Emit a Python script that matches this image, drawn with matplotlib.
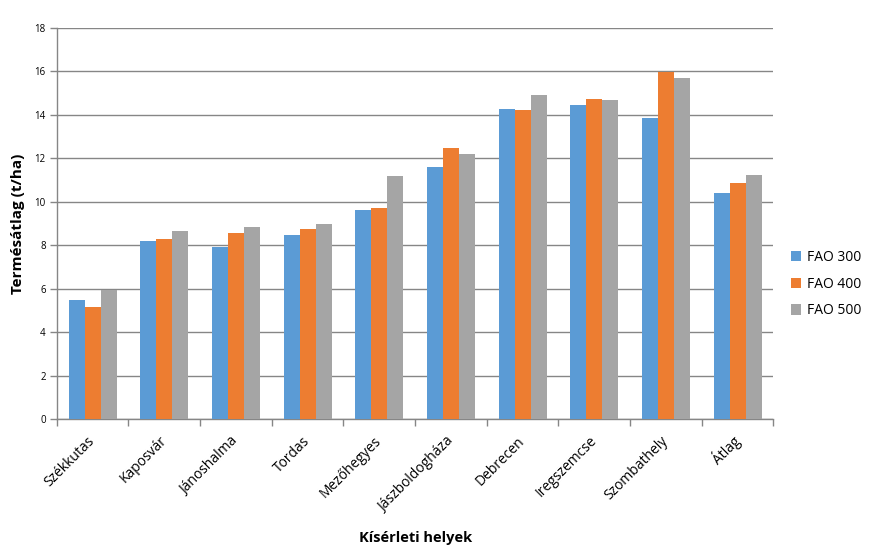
import numpy as np
import matplotlib
matplotlib.use("Agg")
import matplotlib.pyplot as plt

plt.rcParams['font.family'] = ['Open Sans', 'DejaVu Sans']

sites = ["Székkutas", "Kaposvár", "Jánoshalma", "Tordas", "Mezőhegyes",
         "Jászboldogháza", "Debrecen", "Iregszemcse", "Szombathely", "Átlag"]
fao300 = [5.48, 8.20, 7.90, 8.45, 9.64, 11.58, 14.28, 14.45, 13.83, 10.42]
fao400 = [5.16, 8.28, 8.54, 8.76, 9.70, 12.47, 14.20, 14.72, 15.96, 10.86]
fao500 = [5.92, 8.66, 8.82, 8.97, 11.16, 12.17, 14.88, 14.69, 15.66, 11.22]
series_names = ["FAO 300", "FAO 400", "FAO 500"]
colors = ["#5B9BD5", "#ED7D31", "#A5A5A5"]

grid_col = "#868686"

fig = plt.figure(figsize=(8.73, 5.51), dpi=100)
ax = fig.add_axes([0.065, 0.239, 0.821, 0.711])

x = np.arange(len(sites))
w = 0.223
for i, (vals, name, c) in enumerate(zip([fao300, fao400, fao500], series_names, colors)):
    ax.bar(x + (i - 1) * w, vals, width=w, color=c, label=name, zorder=3)

ax.set_xlim(-0.5, len(sites) - 0.5)
ax.set_ylim(0, 18)
ax.set_yticks(np.arange(0, 19, 2))
ax.yaxis.grid(True, color=grid_col, linewidth=1.0, zorder=0)

# category labels at centres, tick marks at boundaries
ax.set_xticks(x)
ax.set_xticklabels(sites, rotation=45, ha="right", va="center",
                   rotation_mode="anchor", fontsize=10)
ax.set_xticks(np.arange(-0.5, len(sites), 1), minor=True)
ax.tick_params(axis="x", which="major", length=0, pad=14)
ax.tick_params(axis="x", which="minor", length=5, color=grid_col, width=1)
ax.tick_params(axis="y", length=5, color=grid_col, width=1, pad=3, labelsize=7)

for s in ["top", "right"]:
    ax.spines[s].set_visible(False)
for s in ["left", "bottom"]:
    ax.spines[s].set_color(grid_col)
    ax.spines[s].set_linewidth(1.0)

ax.set_ylabel("Termésátlag (t/ha)", fontsize=11, fontweight="bold", labelpad=7)
ax.set_xlabel("Kísérleti helyek", fontsize=10.5, fontweight="bold", labelpad=12)

fig.legend(loc="center left", bbox_to_anchor=(791 / 873, 1 - 284 / 551),
           frameon=False, fontsize=10, handlelength=0.75, handleheight=0.75,
           handletextpad=0.4, labelspacing=0.85, borderpad=0, borderaxespad=0)

fig.savefig("out.png", dpi=100)
